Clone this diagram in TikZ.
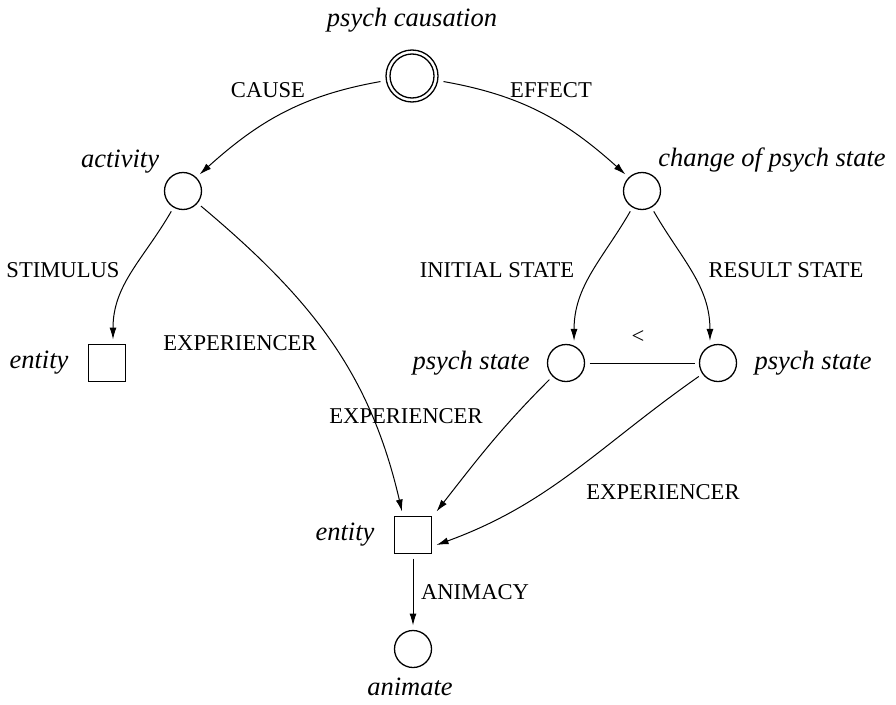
\documentclass[tikz,border=0pt]{standalone}
\usepackage{fontspec}
\setmainfont{Liberation Serif}
\usetikzlibrary{arrows.meta}
\begin{document}
\begin{tikzpicture}[x=1pt,y=-1pt,
  circ/.style={circle,draw,line width=1.3pt,minimum size=37pt,inner sep=0pt,outer sep=5pt},
  sq/.style={rectangle,draw,line width=1.3pt,minimum size=37pt,inner sep=0pt,outer sep=5pt},
  lab/.style={font=\fontsize{26.5}{30}\selectfont\itshape,inner sep=0pt},
  rel/.style={font=\fontsize{22.6}{26}\selectfont,inner sep=0pt},
  arr/.style={line width=1pt,-{Latex[length=12pt,width=7pt]}},
  ln/.style={line width=1pt}
]
\useasboundingbox (0,0) rectangle (896,704);
% nodes
\node[circle,draw,line width=1.3pt,minimum size=52pt,inner sep=0pt,outer sep=6pt] (top) at (412,76) {};
\node[circle,draw,line width=1.3pt,minimum size=44pt,inner sep=0pt] (topin) at (412,76) {};
\node[circ] (act) at (183,191) {};
\node[circ] (chg) at (642,191) {};
\node[sq] (ent1) at (107,363) {};
\node[circ] (ps1) at (566,363) {};
\node[circ] (ps2) at (718,363) {};
\node[sq] (ent2) at (413,535) {};
\node[circ] (anim) at (413,649) {};
% node labels
\node[lab] (tlab) at (412,20) {psych causation};
\node[lab] (alab) at (120,162) {activity};
\node[lab] (clab) at (772,160) {change of psych state};
\node[lab] (e1lab) at (39,363) {entity};
\node[lab] (p1lab) at (471,363) {psych state};
\node[lab] (p2lab) at (813,363) {psych state};
\node[lab] (e2lab) at (345,535) {entity};
\node[lab] (anlab) at (410,687) {animate};
% edge labels
\node[rel] (lcause) at (268,90) {CAUSE};
\node[rel] (leffect) at (551,90) {EFFECT};
\node[rel] (lstim) at (63,270) {STIMULUS};
\node[rel] (linit) at (497,270) {INITIAL STATE};
\node[rel] (lres) at (786,270) {RESULT STATE};
\node[rel] (lexp1) at (240,343) {EXPERIENCER};
\node[rel] (llt) at (638,337) {<};
\node[rel] (lexp2) at (406,416) {EXPERIENCER};
\node[rel] (lexp3) at (663,492) {EXPERIENCER};
\node[rel] (lanim) at (475,592) {ANIMACY};
% edges
\draw[arr] (top.190) to[out=190,in=42] (act.45);
\draw[arr] (top.-10) to[out=-10,in=138] (chg.135);
\draw[arr] (act.240) to[out=240,in=90] ([xshift=6pt]ent1.north);
\draw[arr] (act.-40) to[out=-40,in=103] ([xshift=-11pt]ent2.north);
\draw[arr] (chg.240) to[out=240,in=90] (ps1.70);
\draw[arr] (chg.-60) to[out=-60,in=90] (ps2.110);
\draw[ln] (ps1) -- (ps2);
\draw[arr] (ps1.225) to[out=225,in=52] (ent2.north east);
\draw[arr] (ps2.215) to[out=215,in=20] ([yshift=-10pt]ent2.east);
\draw[arr] (ent2) -- (anim);
\end{tikzpicture}
\end{document}
